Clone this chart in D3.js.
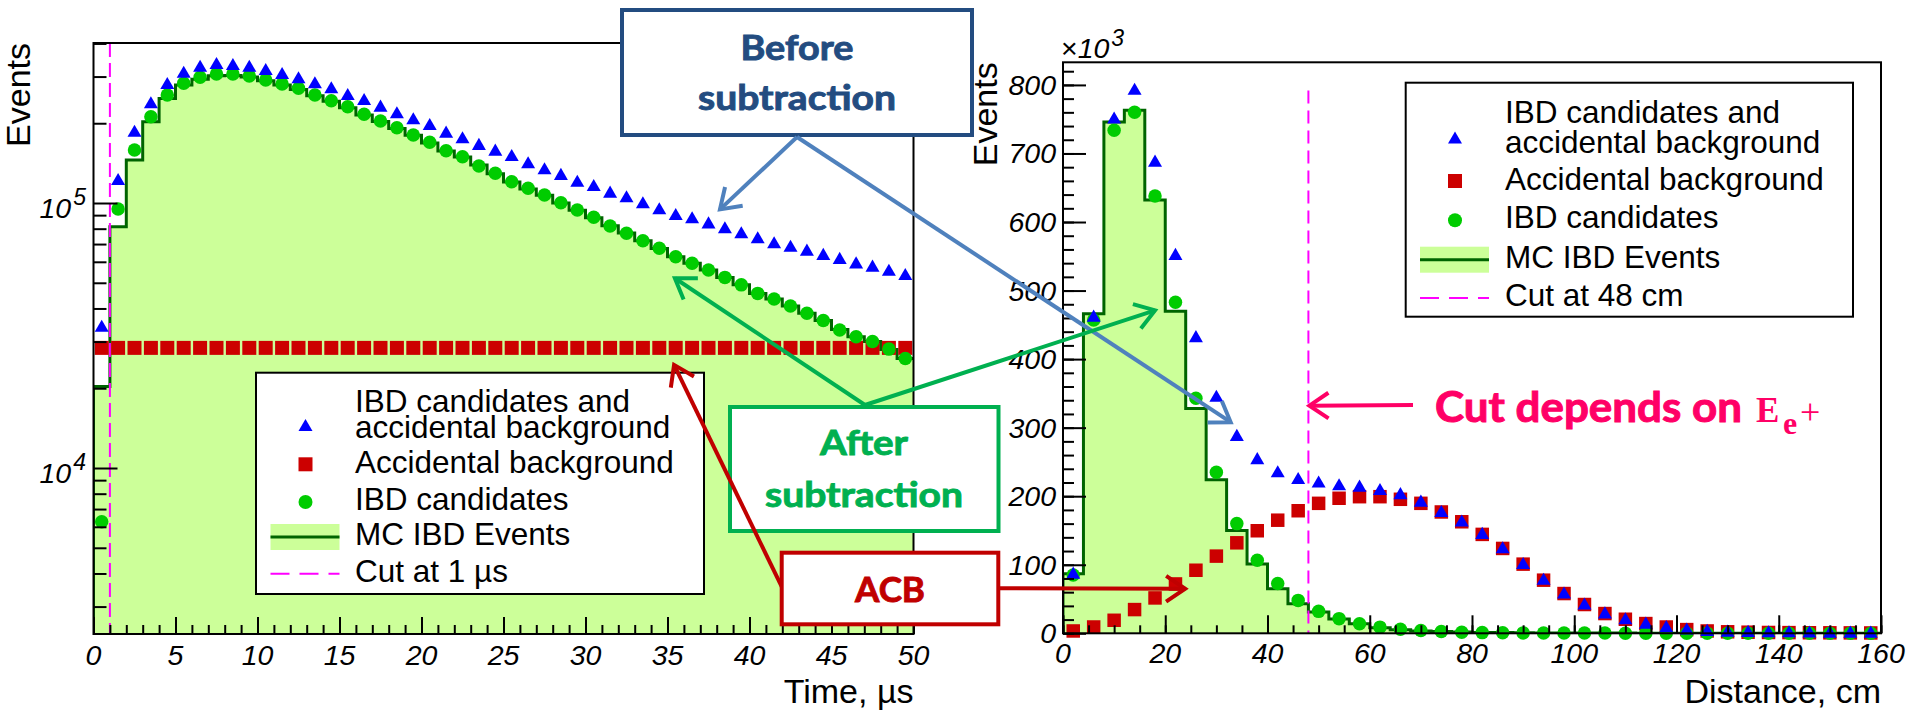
<!DOCTYPE html>
<html><head><meta charset="utf-8">
<script src="https://cdn.jsdelivr.net/npm/d3@7/dist/d3.min.js"></script>
<style>body{margin:0;background:#fff;}svg{display:block;}</style>
</head><body>
<script>
// ---------------- DATA ----------------
// Left panel: time between prompt and delayed signal, 1 us bins
const timeCenters = [0.5,1.5,2.5,3.5,4.5,5.5,6.5,7.5,8.5,9.5,10.5,11.5,12.5,13.5,14.5,15.5,16.5,17.5,18.5,19.5,20.5,21.5,22.5,23.5,24.5,25.5,26.5,27.5,28.5,29.5,30.5,31.5,32.5,33.5,34.5,35.5,36.5,37.5,38.5,39.5,40.5,41.5,42.5,43.5,44.5,45.5,46.5,47.5,48.5,49.5];
const timeBinWidth = 1;
const timeIbdPlusAcc = [34100,122100,185800,237800,281200,310200,326800,334600,331700,326800,317600,306700,295500,282900,270900,255600,244800,230900,218000,206900,197000,184200,175500,165600,157600,150500,141200,134100,127600,120300,115900,109400,105100,99750,94700,90100,87550,83800,80300,76900,73600,70500,68400,66100,63700,61500,59200,57500,55500,53500];
const timeAcc = [28400,28400,28400,28400,28400,28400,28400,28400,28400,28400,28400,28400,28400,28400,28400,28400,28400,28400,28400,28400,28400,28400,28400,28400,28400,28400,28400,28400,28400,28400,28400,28400,28400,28400,28400,28400,28400,28400,28400,28400,28400,28400,28400,28400,28400,28400,28400,28400,28400,28400];
const timeIbd = [6270,94900,158500,211700,255600,282900,298100,306700,306700,301500,291200,281200,270900,255600,243200,230900,216200,203900,192400,180600,169500,157600,149600,138000,129400,120300,113600,107200,100300,94100,88300,81900,76900,72100,67500,62700,59200,55900,52400,49100,45600,43400,40900,38400,36000,33200,31300,30000,28100,25900];
const timeMC = [20300,81400,145300,202700,248000,278600,293000,302000,303000,299000,289000,279000,268000,254000,242000,229000,215000,203000,191000,180000,168500,157000,149000,139000,129000,120000,113000,107000,100000,94000,88000,82000,77000,72000,67300,62700,59200,55900,52400,49100,45600,43400,40900,38400,36000,33300,31300,30000,28000,25900];
const timeCut = 1;
const timeTicksMajor = [0,5,10,15,20,25,30,35,40,45,50];
const timeLogMajor = [1e4,1e5];
const timeLogLabels = [["10","4"],["10","5"]];

// Right panel: prompt-delayed distance, 4 cm bins (values x10^3)
const distCenters = [2,6,10,14,18,22,26,30,34,38,42,46,50,54,58,62,66,70,74,78,82,86,90,94,98,102,106,110,114,118,122,126,130,134,138,142,146,150,154,158];
const distBinWidth = 4;
const distIbdPlusAcc = [87,462,751,793,688,552,432,345,288,254,235,225,220,216,214,209,203,192,177,163,145,124,101,78,58,42,29,20.5,14,9,5.5,3.5,2.5,2,1.5,1.5,1.2,1,1,1];
const distAcc = [3.4,9.2,19,34.6,51.6,72,92,112.6,132,149.6,165,178.8,189.6,197,199.3,199.3,195.5,189.6,177,162.7,144.3,123.8,100.9,77.5,58,42,28.8,20.5,14.2,9.2,5.4,3.4,2.2,1.6,1.2,1,0.8,0.7,0.6,0.5];
const distIbd = [85,457,734,760,638,483,343,235,160,106.7,72.6,48,32,21.4,14,9,6,4,2.5,1.5,1,0.8,0.6,0.5,0.4,0.3,0.3,0.2,0.2,0.2,0.1,0.1,0.1,0.1,0.1,0.1,0.1,0.1,0.1,0.1];
const distMC = [87,466,746,763,632,470,328,224,150,101,65,43,31,21,14,8,5,3.5,2.5,1.8,1.2,1,0.8,0.6,0.5,0.4,0.3,0.3,0.2,0.2,0.2,0.1,0.1,0.1,0.1,0.1,0.1,0.1,0.1,0.1];
const distCut = 48;
const distCutTop = 792;
const distTicksMajor = [0,20,40,60,80,100,120,140,160];
const distYTicksMajor = [0,100,200,300,400,500,600,700,800];

const legendLabels = [["IBD candidates and","accidental background"],["Accidental background"],["IBD candidates"],["MC IBD Events"]];
const leftCutLabel = "Cut at 1 \u00b5s";
const rightCutLabel = "Cut at 48 cm";

// ---------------- STYLE ----------------
const C = {blue:"#0000ff", red:"#cc0000", green:"#00cc00", fill:"#ccff99", mcLine:"#006400", cut:"#ff00ff",
  before:"#234c80", beforeArrow:"#4f81bd", after:"#00b050", acb:"#c00000", cutNote:"#ff0066"};
const FONT = "'Liberation Sans', Arial, Helvetica, sans-serif";
const NOTE_FONT = "Lato, 'Open Sans', sans-serif";

const svg = d3.select("body").append("svg").attr("width",1915).attr("height",713)
  .style("font-family",FONT);

function markers(g, xs, ys, xScale, yScale, kind, size){
  const sym = kind==="tri"? d3.symbolTriangle : kind==="sq"? d3.symbolSquare : d3.symbolCircle;
  const col = kind==="tri"? C.blue : kind==="sq"? C.red : C.green;
  const area = kind==="tri"? size*size*0.433 : kind==="sq"? size*size : Math.PI*size*size/4;
  g.selectAll(null).data(xs.map((x,i)=>[x,ys[i]])).join("path")
    .attr("d", d3.symbol().type(sym).size(area))
    .attr("transform", d=>`translate(${xScale(d[0])},${yScale(d[1]) + (kind==="tri"?1:0)})`)
    .attr("fill", col);
}
function legendSymbol(g, kind, x, y, size){
  const sym = kind==="tri"? d3.symbolTriangle : kind==="sq"? d3.symbolSquare : d3.symbolCircle;
  const col = kind==="tri"? C.blue : kind==="sq"? C.red : C.green;
  const area = kind==="tri"? size*size*0.433 : kind==="sq"? size*size : Math.PI*size*size/4;
  g.append("path").attr("d", d3.symbol().type(sym).size(area)).attr("transform",`translate(${x},${y})`).attr("fill",col);
}
function histPoints(centers, vals, bw){
  const pts = centers.map((c,i)=>[c-bw/2, vals[i]]);
  pts.push([centers[centers.length-1]+bw/2, vals[vals.length-1]]);
  return pts;
}
function drawHist(g, centers, vals, bw, xS, yS, base, clipId){
  const pts = histPoints(centers, vals, bw);
  g.append("path").datum(pts).attr("clip-path",`url(#${clipId})`)
    .attr("d", d3.area().curve(d3.curveStepAfter).x(d=>xS(d[0])).y0(yS(base)).y1(d=>yS(d[1])))
    .attr("fill", C.fill);
  const linePts = [[pts[0][0], base], ...pts];
  g.append("path").datum(linePts).attr("clip-path",`url(#${clipId})`)
    .attr("d", d3.line().curve(d3.curveStepAfter).x(d=>xS(d[0])).y(d=>yS(d[1])))
    .attr("fill","none").attr("stroke",C.mcLine).attr("stroke-width",3);
}
function drawLegend(g, box, rows){
  g.append("rect").attr("x",box.x).attr("y",box.y).attr("width",box.w).attr("height",box.h)
    .attr("fill","#fff").attr("stroke","#000").attr("stroke-width",2);
  const t = (txt,y)=>g.append("text").attr("x",box.tx).attr("y",y).attr("font-size",31.5).text(txt);
  t(legendLabels[0][0], rows[0]); t(legendLabels[0][1], rows[1]);
  legendSymbol(g,"tri",box.sx,(rows[0]+rows[1])/2+2,14);
  t(legendLabels[1][0], rows[2]); legendSymbol(g,"sq",box.sx,rows[2]-9,14);
  t(legendLabels[2][0], rows[3]); legendSymbol(g,"ci",box.sx,rows[3]-8,14);
  t(legendLabels[3][0], rows[4]);
  g.append("rect").attr("x",box.sx-35).attr("y",rows[4]-21).attr("width",69).attr("height",26).attr("fill",C.fill);
  g.append("line").attr("x1",box.sx-35).attr("x2",box.sx+34).attr("y1",rows[4]-8).attr("y2",rows[4]-8).attr("stroke",C.mcLine).attr("stroke-width",3);
  t(box.cutLabel, rows[5]);
  g.append("line").attr("x1",box.sx-35).attr("x2",box.sx+34).attr("y1",rows[5]-8).attr("y2",rows[5]-8)
    .attr("stroke",C.cut).attr("stroke-width",2).attr("stroke-dasharray","19,10");
}

const defs = svg.append("defs");

// ================= LEFT PANEL =================
const LF = {x0:93.5, x1:913.5, y0:634, y1:43};
const xT = d3.scaleLinear().domain([0,50]).range([LF.x0,LF.x1]);
const yT = d3.scaleLog().domain([2364,401600]).range([LF.y0,LF.y1]);
defs.append("clipPath").attr("id","clipL").append("rect").attr("x",LF.x0).attr("y",LF.y1).attr("width",LF.x1-LF.x0).attr("height",LF.y0-LF.y1);
const gL = svg.append("g");
drawHist(gL, timeCenters, timeMC, timeBinWidth, xT, yT, yT.domain()[0], "clipL");
markers(gL, timeCenters, timeAcc, xT, yT, "sq", 14);
markers(gL, timeCenters, timeIbd, xT, yT, "ci", 13.5);
markers(gL, timeCenters, timeIbdPlusAcc, xT, yT, "tri", 14);
gL.append("line").attr("x1",xT(timeCut)).attr("x2",xT(timeCut)).attr("y1",LF.y1).attr("y2",LF.y0)
  .attr("stroke",C.cut).attr("stroke-width",2).attr("stroke-dasharray","14,6");
// ticks
const minorX = d3.range(0,51,1), minorY = [];
[1e3,1e4,1e5].forEach(d=>{for(let k=2;k<=9;k++){const v=d*k; if(v>yT.domain()[0]&&v<yT.domain()[1]) minorY.push(v);}});
gL.append("g").attr("transform",`translate(0,${LF.y0})`).call(d3.axisBottom(xT).tickValues(minorX).tickSize(-9).tickFormat("").tickSizeOuter(0)).call(a=>a.select(".domain").remove()).selectAll("line").attr("stroke-width",2);
gL.append("g").attr("transform",`translate(0,${LF.y0})`).call(d3.axisBottom(xT).tickValues(timeTicksMajor).tickSize(-17).tickFormat("").tickSizeOuter(0)).call(a=>a.select(".domain").remove()).selectAll("line").attr("stroke-width",2);
gL.append("g").attr("transform",`translate(${LF.x0},0)`).call(d3.axisLeft(yT).tickValues(minorY).tickSize(-13).tickFormat("").tickSizeOuter(0)).call(a=>a.select(".domain").remove()).selectAll("line").attr("stroke-width",2);
gL.append("g").attr("transform",`translate(${LF.x0},0)`).call(d3.axisLeft(yT).tickValues(timeLogMajor).tickSize(-24).tickFormat("").tickSizeOuter(0)).call(a=>a.select(".domain").remove()).selectAll("line").attr("stroke-width",2);
gL.append("rect").attr("x",LF.x0).attr("y",LF.y1).attr("width",LF.x1-LF.x0).attr("height",LF.y0-LF.y1).attr("fill","none").attr("stroke","#000").attr("stroke-width",2);
gL.selectAll(null).data(timeTicksMajor).join("text").attr("x",d=>xT(d)).attr("y",665)
  .attr("text-anchor","middle").attr("font-size",28.5).attr("font-style","italic").text(d=>d);
timeLogMajor.forEach((v,i)=>{
  const t = gL.append("text").attr("x",86).attr("y",yT(v)+15).attr("text-anchor","end").attr("font-size",28.5).attr("font-style","italic");
  t.append("tspan").text(timeLogLabels[i][0]);
  t.append("tspan").attr("dy",-13).attr("dx",2).attr("font-size",23).text(timeLogLabels[i][1]);
});
gL.append("text").attr("x",LF.x1).attr("y",703).attr("text-anchor","end").attr("font-size",34).text("Time, \u00b5s");
gL.append("text").attr("transform",`translate(30,${LF.y1}) rotate(-90)`).attr("text-anchor","end").attr("font-size",34).text("Events");
drawLegend(gL, {x:256,y:372.7,w:448,h:221.3,tx:355,sx:305.5,cutLabel:leftCutLabel},[411.7,438.3,473.3,510,545,581.7]);

// ================= RIGHT PANEL =================
const RF = {x0:1063, x1:1881, y0:633.3, y1:62.3};
const xD = d3.scaleLinear().domain([0,160]).range([RF.x0,RF.x1]);
const yD = d3.scaleLinear().domain([0,833]).range([RF.y0,RF.y1]);
defs.append("clipPath").attr("id","clipR").append("rect").attr("x",RF.x0).attr("y",RF.y1).attr("width",RF.x1-RF.x0).attr("height",RF.y0-RF.y1);
const gR = svg.append("g");
drawHist(gR, distCenters, distMC, distBinWidth, xD, yD, 0, "clipR");
gR.append("line").attr("x1",xD(distCut)).attr("x2",xD(distCut)).attr("y1",yD(distCutTop)).attr("y2",yD(0))
  .attr("stroke",C.cut).attr("stroke-width",2).attr("stroke-dasharray","13,7");
markers(gR, distCenters, distAcc, xD, yD, "sq", 13.5);
markers(gR, distCenters, distIbd, xD, yD, "ci", 13.5);
markers(gR, distCenters, distIbdPlusAcc, xD, yD, "tri", 14);
gR.append("g").attr("transform",`translate(0,${RF.y0})`).call(d3.axisBottom(xD).tickValues(d3.range(0,161,5)).tickSize(-8).tickFormat("").tickSizeOuter(0)).call(a=>a.select(".domain").remove()).selectAll("line").attr("stroke-width",2);
gR.append("g").attr("transform",`translate(0,${RF.y0})`).call(d3.axisBottom(xD).tickValues(distTicksMajor).tickSize(-18).tickFormat("").tickSizeOuter(0)).call(a=>a.select(".domain").remove()).selectAll("line").attr("stroke-width",2);
gR.append("g").attr("transform",`translate(${RF.x0},0)`).call(d3.axisLeft(yD).tickValues(d3.range(0,834,20)).tickSize(-11).tickFormat("").tickSizeOuter(0)).call(a=>a.select(".domain").remove()).selectAll("line").attr("stroke-width",2);
gR.append("g").attr("transform",`translate(${RF.x0},0)`).call(d3.axisLeft(yD).tickValues(distYTicksMajor).tickSize(-23).tickFormat("").tickSizeOuter(0)).call(a=>a.select(".domain").remove()).selectAll("line").attr("stroke-width",2);
gR.append("rect").attr("x",RF.x0).attr("y",RF.y1).attr("width",RF.x1-RF.x0).attr("height",RF.y0-RF.y1).attr("fill","none").attr("stroke","#000").attr("stroke-width",2);
gR.selectAll(null).data(distTicksMajor).join("text").attr("x",d=>xD(d)).attr("y",663)
  .attr("text-anchor","middle").attr("font-size",28.5).attr("font-style","italic").text(d=>d);
gR.selectAll(null).data(distYTicksMajor).join("text").attr("x",1056).attr("y",d=>yD(d)+10)
  .attr("text-anchor","end").attr("font-size",28.5).attr("font-style","italic").text(d=>d);
{
  const t = gR.append("text").attr("x",1061).attr("y",58).attr("font-size",28.5);
  t.append("tspan").text("\u00d7");
  t.append("tspan").attr("font-style","italic").text("10");
  t.append("tspan").attr("font-style","italic").attr("dy",-12).attr("dx",2).attr("font-size",23).text("3");
}
gR.append("text").attr("x",RF.x1).attr("y",703).attr("text-anchor","end").attr("font-size",34).text("Distance, cm");
gR.append("text").attr("transform",`translate(997,${RF.y1}) rotate(-90)`).attr("text-anchor","end").attr("font-size",34).text("Events");
drawLegend(gR, {x:1405.7,y:82.7,w:447.3,h:234,tx:1505,sx:1455,cutLabel:rightCutLabel},[122.5,152.5,190,228.3,267.7,306]);

// ================= ANNOTATIONS =================
const gA = svg.append("g");
function noteBox(x,y,w,h,col){
  gA.append("rect").attr("x",x).attr("y",y).attr("width",w).attr("height",h).attr("fill","#fff").attr("stroke",col).attr("stroke-width",4);
}
function noteText(txt,x,y,size,col,len){
  gA.append("text").attr("x",x).attr("y",y).attr("text-anchor","middle").attr("font-family",NOTE_FONT)
    .attr("font-weight","bold").attr("font-size",size).attr("fill",col)
    .attr("stroke",col).attr("stroke-width",0.9)
    .attr("textLength",len).attr("lengthAdjust","spacingAndGlyphs").text(txt);
}
function arrow(x1,y1,x2,y2,col){
  gA.append("line").attr("x1",x1).attr("y1",y1).attr("x2",x2).attr("y2",y2).attr("stroke",col).attr("stroke-width",4);
  const a = Math.atan2(y1-y2,x1-x2), L=23, h=34*Math.PI/180;
  const p1=[x2+L*Math.cos(a+h), y2+L*Math.sin(a+h)], p2=[x2+L*Math.cos(a-h), y2+L*Math.sin(a-h)];
  gA.append("path").attr("d",`M${p1[0]},${p1[1]}L${x2},${y2}L${p2[0]},${p2[1]}`).attr("fill","none")
    .attr("stroke",col).attr("stroke-width",4).attr("stroke-linejoin","miter");
}
// Before subtraction
noteBox(622,10,350,125,C.before);
noteText("Before",797,60,35,C.before,113);
noteText("subtraction",797,110,35,C.before,198);
arrow(797,137, xT(38.2), yT(94600), C.beforeArrow);
arrow(797,137, xD(32.8), yD(308), C.beforeArrow);
// After subtraction
arrow(865,405, xT(35.45), yT(52000), C.after);
arrow(865,405, xD(18.0), yD(471), C.after);
noteBox(730,407,268.5,124,C.after);
noteText("After",864,455,35,C.after,88);
noteText("subtraction",864,506.7,35,C.after,198);
// ACB
arrow(781.7,586.7, xT(35.4), yT(24500), C.acb);
arrow(999,588.3, xD(23.9), yD(65), C.acb);
noteBox(781.7,552.7,216.6,71.6,C.acb);
noteText("ACB",890,601.7,35,C.acb,70);
// Cut depends on E_e+
arrow(1413,405, xD(distCut)+1, yD(332), C.cutNote);
gA.append("text").attr("x",1435).attr("y",421.7).attr("font-family",NOTE_FONT).attr("font-weight","bold")
  .attr("font-size",42).attr("fill",C.cutNote).attr("stroke",C.cutNote).attr("stroke-width",1)
  .attr("textLength",307).attr("lengthAdjust","spacingAndGlyphs").text("Cut depends on");
gA.append("text").attr("x",1756).attr("y",421.7).attr("font-family","'Liberation Serif', 'DejaVu Serif', serif")
  .attr("font-size",35).attr("font-weight","bold").attr("fill",C.cutNote).text("E");
gA.append("text").attr("x",1783).attr("y",434).attr("font-family","'Liberation Serif', 'DejaVu Serif', serif")
  .attr("font-size",32).attr("font-weight","bold").attr("fill",C.cutNote).text("e");
gA.append("text").attr("x",1800).attr("y",424).attr("font-family","'Liberation Serif', 'DejaVu Serif', serif")
  .attr("font-size",36).attr("fill",C.cutNote).text("+");
</script>
</body></html>
